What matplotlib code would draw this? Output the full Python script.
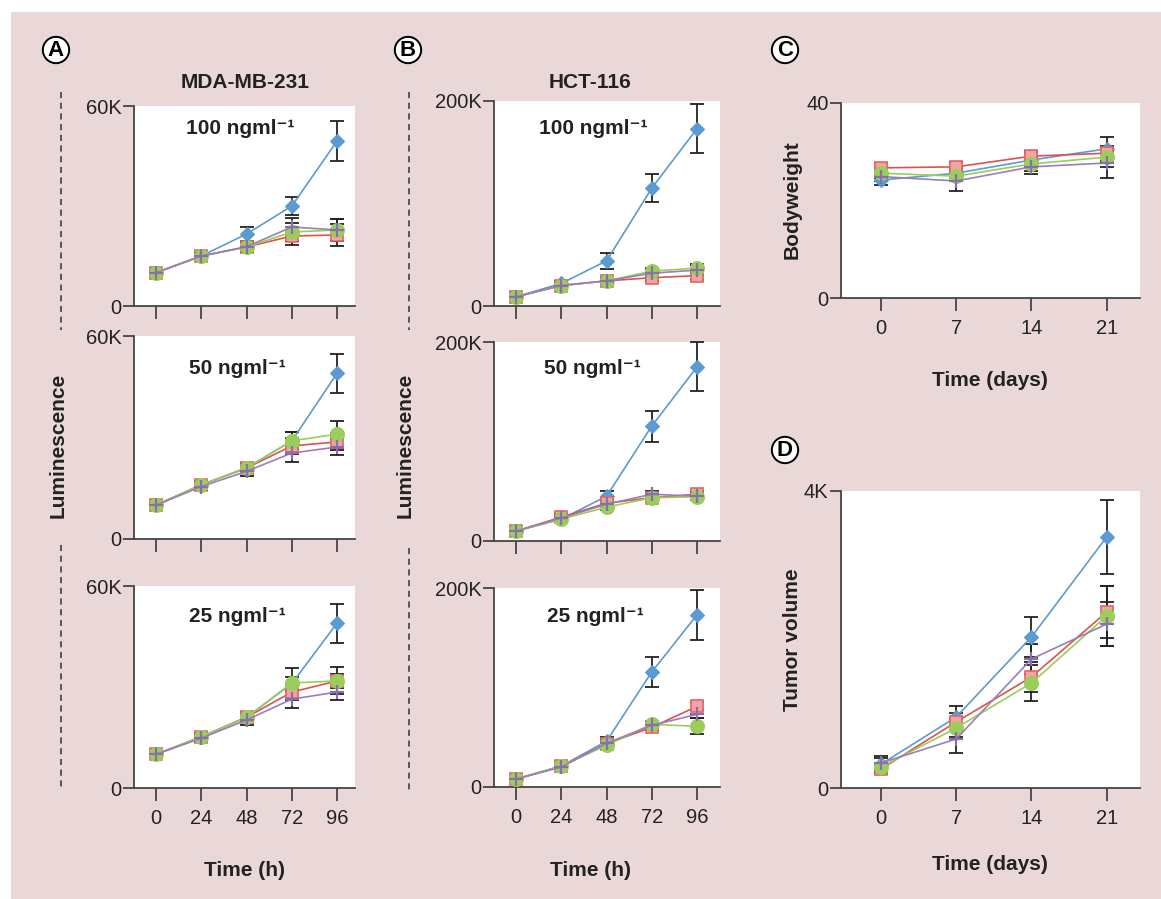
import matplotlib
matplotlib.use("Agg")
import matplotlib.pyplot as plt
from matplotlib.lines import Line2D
import matplotlib.patches as mpatches

plt.rcParams["font.family"] = ["Liberation Sans", "DejaVu Sans"]

W, H = 1161, 899
PINK = "#ead8d8"
INK = "#222222"

# ---- data (series order: blue, red, green, purple) ----
hours = [0, 24, 48, 72, 96]
days = [0, 7, 14, 21]

mda100_mean = [[10, 15, 21.6, 30, 49.5], [10, 15, 17.7, 21, 21.3],
               [10, 15, 17.7, 22.2, 22.8], [10, 15, 17.8, 23.7, 22.8]]
mda100_err = [[0.5, 1, 2, 2.6, 6], [0.5, 1, 1.5, 2.8, 3.2],
              [0.5, 1, 1.5, 2.8, 3.2], [0.5, 1, 1.5, 2.8, 3.4]]

mda50_mean = [[10, 16, 21, 29, 49], [10, 16, 21, 27.5, 28.7],
              [10, 16, 21, 29, 31], [10, 15.5, 20, 25.4, 27.2]]
mda50_err = [[0.5, 1, 1.5, 2.5, 5.7], [0.5, 1, 1.5, 2.5, 2.5],
             [0.5, 1, 1.5, 2.5, 4], [0.5, 1, 1.5, 2.5, 2.5]]

mda25_mean = [[10, 15.2, 21, 31, 49], [10, 15.2, 21, 28.5, 31.8],
              [10, 15.2, 21, 31.2, 31.8], [10, 14.8, 20.2, 26.4, 28.5]]
mda25_err = [[0.5, 1, 1.5, 2, 5.8], [0.5, 1, 1.5, 2.5, 2],
             [0.5, 1, 1.5, 4.4, 4], [0.5, 1, 1.5, 2.5, 2.5]]

hct100_mean = [[9, 22, 44, 115, 173], [9, 20, 24.5, 27.6, 29.6],
               [9, 20, 24.5, 34, 37], [9, 20, 24.5, 32, 35]]
hct100_err = [[1, 2, 8, 14, 24], [1, 2, 3, 3, 4],
              [1, 2, 3, 3, 4], [1, 2, 3, 3, 5]]

hct50_mean = [[10, 22, 45, 115.5, 175], [10, 24, 38, 43.5, 47],
              [10, 22, 34, 43.5, 44.5], [10, 23, 37, 47, 45]]
hct50_err = [[1, 2, 5, 15.5, 24.5], [1, 3, 4, 3, 3],
             [1, 2, 3, 3, 3], [1, 2, 3, 3, 3]]

hct25_mean = [[8, 21, 46, 115.6, 173], [8, 21, 43.5, 60, 81],
              [8, 21, 42, 63, 61], [8, 20, 44, 62, 73]]
hct25_err = [[1, 2, 4, 15.5, 25], [1, 2, 4, 3, 4],
             [1, 2, 4, 3, 8], [1, 2, 4, 3, 4]]

bw_mean = [[24.2, 25.6, 28.3, 30.6], [26.7, 26.9, 29.1, 29.7],
           [25.6, 25, 27.5, 28.9], [24.9, 24, 26.9, 27.7]]
bw_err = [[1, 1, 1.5, 2.5], [1, 1, 1, 1.5],
          [1, 1, 1.5, 2], [1, 2, 1.5, 3]]

tv_mean = [[320, 956, 2034, 3380], [256, 889, 1495, 2370],
           [283, 808, 1414, 2316], [337, 660, 1737, 2208]]
tv_err = [[90, 150, 270, 500], [60, 120, 200, 350],
          [60, 120, 240, 400], [90, 190, 200, 300]]

# marker styles per series
STYLES = [
    dict(color="#5b9bd1", marker="D", ms=7, mfc="#5b9bd1", mec="#5b9bd1", mew=0.8),
    dict(color="#d9534f", marker="s", ms=9, mfc="#f4a3a3", mec="#e06666", mew=1.2),
    dict(color="#9acd5a", marker="o", ms=10, mfc="#9acd5a", mec="#9acd5a", mew=0.8),
    dict(color="#9b7eb8", marker="+", ms=10, mfc="#9b7eb8", mec="#8a6fb0", mew=1.6),
]


def px_rect(left, right, top, bottom):
    return [left / W, 1 - bottom / H, (right - left) / W, (bottom - top) / H]


def fx(x):
    return x / W


def fy(y):
    return 1 - y / H


fig = plt.figure(figsize=(W / 100, H / 100), dpi=100)
fig.patch.set_facecolor("white")
fig.add_artist(mpatches.Rectangle((fx(11), 0), 1, fy(12), transform=fig.transFigure,
                                  color=PINK, lw=0, zorder=0))


def panel(rect, x, means, errs, scale, xlim, ylim, yticklabels, xlabels):
    ax = fig.add_axes(rect)
    ax.set_facecolor("white")
    for i, st in enumerate(STYLES):
        vals = [v * scale for v in means[i]]
        ers = [e * scale for e in errs[i]]
        ax.errorbar(x, vals, yerr=ers, fmt="none", ecolor=INK, elinewidth=1.3,
                    capsize=5, capthick=1.3, zorder=2)
    for i, st in enumerate(STYLES):
        vals = [v * scale for v in means[i]]
        ax.plot(x, vals, lw=1.2, zorder=3 + i, **st)
    ax.set_xlim(*xlim)
    ax.set_ylim(*ylim)
    ax.set_xticks(x)
    ax.set_xticklabels([str(v) for v in x] if xlabels else [])
    ax.set_yticks(list(ylim))
    ax.set_yticklabels(yticklabels)
    for s in ("top", "right"):
        ax.spines[s].set_visible(False)
    for s in ("left", "bottom"):
        ax.spines[s].set_color("#444444")
        ax.spines[s].set_linewidth(1.3)
    ax.tick_params(axis="x", direction="out", length=9, width=1.3, color="#444444",
                   labelsize=14.5, labelcolor=INK, pad=6)
    ax.tick_params(axis="y", direction="out", length=8, width=1.3, color="#444444",
                   labelsize=14.5, labelcolor=INK, pad=1)
    for sp in ax.spines.values():
        sp.set_clip_on(False)
    for ln in ax.lines:
        ln.set_clip_on(False)
    return ax


hx_lim = (-11.7, 105.5)
hbx_lim = (-11.7, 108.2)
dx_lim = (-3.72, 24.1)

panel(px_rect(134, 355, 106, 306), hours, mda100_mean, mda100_err, 1000, hx_lim, (0, 60000), ["0", "60K"], False)
panel(px_rect(134, 355, 336, 539), hours, mda50_mean, mda50_err, 1000, hx_lim, (0, 60000), ["0", "60K"], False)
panel(px_rect(134, 355, 586, 788), hours, mda25_mean, mda25_err, 1000, hx_lim, (0, 60000), ["0", "60K"], True)
panel(px_rect(494, 720, 101, 306), hours, hct100_mean, hct100_err, 1000, hbx_lim, (0, 200000), ["0", "200K"], False)
panel(px_rect(494, 720, 342, 541), hours, hct50_mean, hct50_err, 1000, hbx_lim, (0, 200000), ["0", "200K"], False)
panel(px_rect(494, 720, 588, 787), hours, hct25_mean, hct25_err, 1000, hbx_lim, (0, 200000), ["0", "200K"], True)
panel(px_rect(841, 1140, 103, 298), days, bw_mean, bw_err, 1, dx_lim, (0, 40), ["0", "40"], True)
panel(px_rect(841, 1140, 491, 788), days, tv_mean, tv_err, 1, dx_lim, (0, 4000), ["0", "4K"], True)

# concentration labels inside the panels
conc = [(240, 129, "100"), (237, 368, "50"), (237, 617, "25"),
        (593, 129, "100"), (592, 368, "50"), (595, 617, "25")]
for x, y, c in conc:
    fig.text(fx(x), fy(y), f"{c} ngml\u207b\u00b9", fontsize=15, fontweight="bold",
             ha="center", va="center", color=INK)

# titles and axis labels
bold = dict(fontsize=15, fontweight="bold", color=INK, ha="center", va="center")
fig.text(fx(245), fy(83), "MDA-MB-231", **bold)
fig.text(fx(590), fy(83), "HCT-116", **bold)
fig.text(fx(58), fy(445), "Luminescence", rotation=90, **bold)
fig.text(fx(405), fy(445), "Luminescence", rotation=90, **bold)
fig.text(fx(792), fy(200), "Bodyweight", rotation=90, **bold)
fig.text(fx(792), fy(640), "Tumor volume", rotation=90, **bold)
fig.text(fx(245), fy(870), "Time (h)", **bold)
fig.text(fx(590), fy(870), "Time (h)", **bold)
fig.text(fx(990), fy(380), "Time (days)", **bold)
fig.text(fx(990), fy(865), "Time (days)", **bold)

# circled panel letters
for x, y, letter in [(56, 50, "A"), (408, 50, "B"), (785, 50, "C"), (785, 450, "D")]:
    fig.text(fx(x), fy(y), letter, fontsize=16, fontweight="bold", color="black",
             ha="center", va="center",
             bbox=dict(boxstyle="circle,pad=0.12", fc="white", ec="black", lw=1.4))

# dashed guide lines left of the luminescence panels
for x, segs in [(61, [(92, 330), (545, 790)]), (409, [(92, 330), (548, 790)])]:
    for y0, y1 in segs:
        fig.add_artist(Line2D([fx(x), fx(x)], [fy(y0), fy(y1)], transform=fig.transFigure,
                              color="#333333", lw=1.1, dashes=(4, 3)))

fig.savefig("out.png", dpi=100, facecolor=fig.get_facecolor())
